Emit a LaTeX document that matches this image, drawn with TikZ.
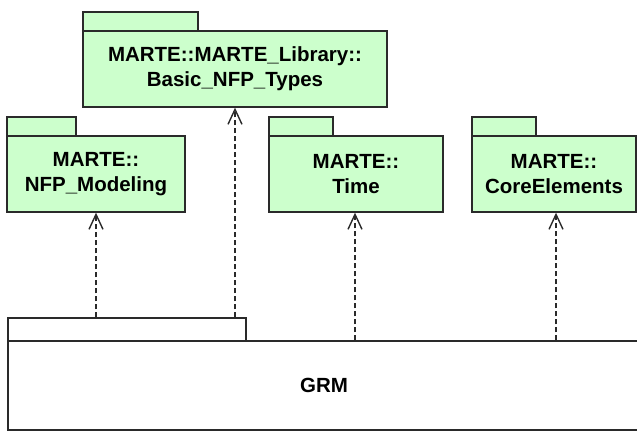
\documentclass[tikz,border=0pt]{standalone}
\usepackage{fontspec}
\setmainfont{Liberation Sans}
\usetikzlibrary{arrows.meta}
\definecolor{pkgfill}{HTML}{CCFFCC}
\definecolor{pkgline}{HTML}{2A2A2A}
\tikzset{
  pkgbody/.style={draw=pkgline, line width=1.4pt, fill=pkgfill, rectangle, inner sep=0pt,
    align=center, font=\fontsize{20.5}{25}\selectfont\bfseries},
  pkgtab/.style={draw=pkgline, line width=1.4pt, fill=pkgfill, rectangle, inner sep=0pt},
  grmbody/.style={draw=pkgline, line width=1.4pt, fill=white, rectangle, inner sep=0pt,
    font=\fontsize{20.5}{25}\selectfont\bfseries},
  grmtab/.style={draw=pkgline, line width=1.4pt, fill=white, rectangle, inner sep=0pt},
  dep/.style={draw=pkgline, line width=1.4pt, dash pattern=on 5pt off 3pt,
    -{Straight Barb[length=15pt,width=14pt]}}
}
\begin{document}
\begin{tikzpicture}[x=1pt,y=-1pt]
\useasboundingbox (0,0) rectangle (637,431);
\clip (0,0) rectangle (637,431);
% packages
\node[pkgtab, minimum width=115pt, minimum height=19pt] (basictab) at (140.5,21.5) {};
\node[pkgbody, minimum width=304pt, minimum height=76pt] (basic) at (235,69) {MARTE::MARTE\_Library::\\Basic\_NFP\_Types};
\node[pkgtab, minimum width=69pt, minimum height=19pt] (nfptab) at (41.5,126.5) {};
\node[pkgbody, minimum width=178pt, minimum height=76pt] (nfp) at (96,174) {MARTE::\\NFP\_Modeling};
\node[pkgtab, minimum width=64pt, minimum height=19pt] (timetab) at (301,126.5) {};
\node[pkgbody, minimum width=174pt, minimum height=76pt] (time) at (356,174) {MARTE::\\Time};
\node[pkgtab, minimum width=64pt, minimum height=19pt] (coretab) at (504,126.5) {};
\node[pkgbody, minimum width=164pt, minimum height=76pt] (core) at (554,174) {MARTE::\\CoreElements};
% GRM
\node[grmtab, minimum width=238pt, minimum height=23pt] (grmtab) at (127,329.5) {};
\node[grmbody, minimum width=632pt, minimum height=89pt] (grm) at (324,385.5) {GRM};
% dependencies
\coordinate (s1) at (nfp.south |- grmtab.north);
\coordinate (s2) at (basic.south |- grmtab.north);
\coordinate (s3) at ([xshift=-1pt]time.south |- grm.north);
\coordinate (s4) at ([xshift=2pt]core.south |- grm.north);
\draw[dep] (s1) -- (s1 |- nfp.south);
\draw[dep] (s2) -- (basic.south);
\draw[dep] (s3) -- (s3 |- time.south);
\draw[dep] (s4) -- (s4 |- core.south);
\end{tikzpicture}
\end{document}
